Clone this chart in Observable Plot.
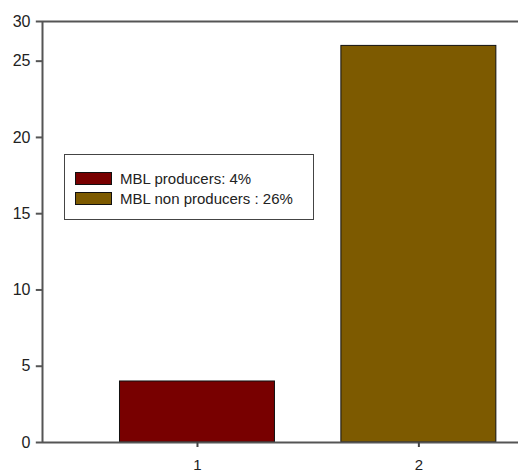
<!DOCTYPE html>
<html>
<head>
<meta charset="utf-8">
<script src="https://cdn.jsdelivr.net/npm/d3@7"></script>
<script src="https://cdn.jsdelivr.net/npm/@observablehq/plot@0.6"></script>
<style>
  body { margin: 0; background: #fff; font-family: Arial, "Liberation Sans", sans-serif; }
  #wrap { position: relative; width: 518px; height: 472px; overflow: hidden; }
  #legend { position: absolute; left: 64px; top: 154px; width: 250px; height: 66px;
    border: 1.5px solid #444; box-sizing: border-box; background: #fff;
    font: 15px Arial, "Liberation Sans", sans-serif; color: #222; padding-top: 13px; }
  .row { display: flex; align-items: center; height: 20px; padding-left: 10px; }
  .sw { width: 37px; height: 13px; border: 1px solid #111; margin-right: 8px; box-sizing: border-box; flex: none; }
</style>
</head>
<body>
<div id="wrap"></div>
<script>
const categories = [1, 2];
const values = [4, 26];
const seriesNames = ["MBL producers: 4%", "MBL non producers : 26%"];
const colors = ["#780000", "#7d5a00"];
const yTickValues = [0, 5, 10, 15, 20, 25, 27.6];
const yTickLabels = ["0", "5", "10", "15", "20", "25", "30"];
const yTop = 27.6;
const xDomain = [0.3, 2.45];
const halfBar = 0.35;
const tickLen = 0.028;

const data = categories.map((c, i) => ({cat: c, value: values[i], name: seriesNames[i], color: colors[i]}));

const chart = Plot.plot({
  width: 518,
  height: 472,
  marginTop: 21,
  marginBottom: 30,
  marginLeft: 42,
  marginRight: 0,
  style: {fontFamily: "Arial, 'Liberation Sans', sans-serif", fontSize: "16px", color: "#222"},
  x: {domain: xDomain, label: null},
  y: {domain: [0, yTop], label: null},
  marks: [
    Plot.rectY(data, {x1: (d) => d.cat - halfBar, x2: (d) => d.cat + halfBar, y: "value", fill: "color", stroke: "#111", strokeWidth: 1}),
    Plot.ruleY([0, yTop], {stroke: "#555", strokeWidth: 2}),
    Plot.ruleX([xDomain[0]], {stroke: "#555", strokeWidth: 2}),
    Plot.ruleY(yTickValues, {x1: xDomain[0] - tickLen, x2: xDomain[0], stroke: "#555", strokeWidth: 2}),
    Plot.axisY(yTickValues, {tickFormat: (d) => yTickLabels[yTickValues.indexOf(d)], tickSize: 0, tickPadding: 12, fill: "#222", fontSize: 16}),
    Plot.axisX(categories, {tickFormat: (d) => String(d), tickSize: 5, tickPadding: 12, stroke: "#444", strokeWidth: 2, fill: "#222", fontSize: 15})
  ]
});
const wrap = document.getElementById("wrap");
wrap.appendChild(chart);

const legend = document.createElement("div");
legend.id = "legend";
seriesNames.forEach((n, i) => {
  const row = document.createElement("div");
  row.className = "row";
  const sw = document.createElement("span");
  sw.className = "sw";
  sw.style.background = colors[i];
  const t = document.createElement("span");
  t.textContent = n;
  row.appendChild(sw);
  row.appendChild(t);
  legend.appendChild(row);
});
wrap.appendChild(legend);
</script>
</body>
</html>
